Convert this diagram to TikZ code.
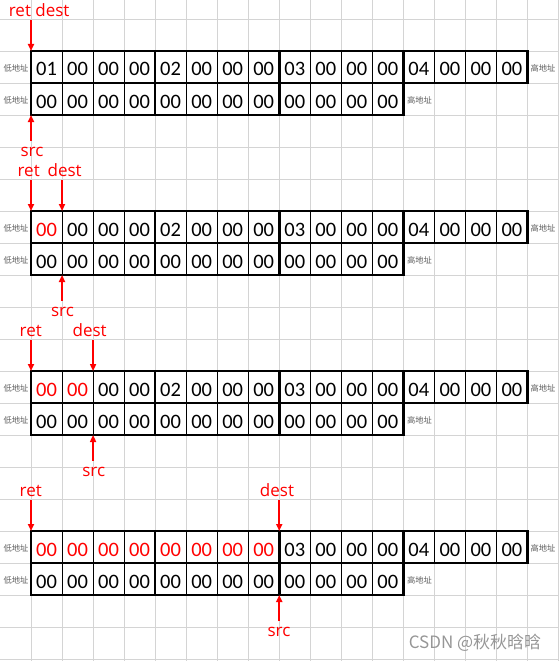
\documentclass[tikz,border=0pt]{standalone}
\usepackage{fontspec}
\setmainfont{Carlito}
\newfontfamily\lblfont{Open Sans}
\newfontfamily\cjkfont{Noto Sans CJK SC}
\usetikzlibrary{arrows.meta}

\definecolor{gridgray}{RGB}{212,212,212}
\definecolor{ptrred}{RGB}{255,0,0}
\definecolor{addrgray}{RGB}{95,95,95}
\definecolor{markgray}{RGB}{150,150,150}

\tikzset{
  gridline/.style={gridgray, line width=0.8pt},
  cellline/.style={black, line width=1pt},
  boxline/.style={black, line width=2.6pt},
  byte/.style={font=\fontsize{20.5}{20.5}\selectfont, inner sep=0pt, anchor=base},
  addr/.style={font=\cjkfont\fontsize{8.3}{8.3}\selectfont, text=addrgray, inner sep=0pt},
  ptrlbl/.style={font=\lblfont\fontsize{17}{17}\selectfont, text=ptrred, inner sep=0pt, anchor=base},
  ptrdown/.style={draw=ptrred, line width=2pt, shorten <=3pt, -{Triangle[length=7pt,width=6pt]}},
  ptrup/.style={draw=ptrred, line width=2pt, shorten <=6pt, -{Triangle[length=7pt,width=6pt]}},
  watermark/.style={font=\cjkfont\fontsize{17}{17}\selectfont, text=markgray, inner sep=0pt}
}

\begin{document}
\begin{tikzpicture}[x=1pt,y=-1pt]
  \useasboundingbox (0,0) rectangle (559,661);
  % draw sheet grid
  \foreach \i in {0,...,17}
    \draw[gridline] ({31+31.03*\i},0) -- ({31+31.03*\i},661);
  \foreach \j in {0,...,20}
    \draw[gridline] (0,{19+32*\j}) -- (559,{19+32*\j});
  % draw the two memory rows for every step
  \foreach \b/\nred in {1/0,2/1,3/2,4/8}{
    \pgfmathsetmacro{\ytop}{51+160*(\b-1)}
    % first row: ret/dest bytes
    \foreach \k/\val in {1/01,2/00,3/00,4/00,5/02,6/00,7/00,8/00,9/03,10/00,11/00,12/00,13/04,14/00,15/00,16/00}{
      \ifnum\k>\nred\relax \def\bytecol{black}\def\bytetxt{\val}\else \def\bytecol{ptrred}\def\bytetxt{00}\fi
      \draw[cellline] ({31+31.03*(\k-1)},\ytop) rectangle ({31+31.03*\k},\ytop+32);
      \node[byte, text=\bytecol] (m\b-1-\k) at ({31+31.03*(\k-0.5)},\ytop+25) {\bytetxt};
    }
    % second row: src bytes
    \foreach \k in {1,...,12}{
      \draw[cellline] ({31+31.03*(\k-1)},\ytop+32) rectangle ({31+31.03*\k},\ytop+64);
      \node[byte] (m\b-2-\k) at ({31+31.03*(\k-0.5)},\ytop+57) {00};
    }
    % thick borders round each int
    \draw[boxline] (31,\ytop) rectangle ({31+31.03*16},\ytop+32);
    \draw[boxline] (31,\ytop+32) rectangle ({31+31.03*12},\ytop+64);
    \foreach \g in {4,8}
      \draw[boxline] ({31+31.03*\g},\ytop) -- ({31+31.03*\g},\ytop+64);
    \draw[boxline] ({31+31.03*12},\ytop) -- ({31+31.03*12},\ytop+32);
    % address labels
    \node[addr] (lo\b-1) at (16,\ytop+17) {低地址};
    \node[addr] (lo\b-2) at (16,\ytop+49) {低地址};
    \node[addr] (hi\b-1) at (543,\ytop+17) {高地址};
    \node[addr] (hi\b-2) at (419.5,\ytop+49) {高地址};
    % corner points the pointers aim at
    \foreach \k in {1,...,16}
      \coordinate (t\b-\k) at ({31+31.03*(\k-1)},\ytop);
    \foreach \k in {1,...,12}
      \coordinate (s\b-\k) at ({31+31.03*(\k-1)},\ytop+64);
  }

  % step 1
  \node[ptrlbl] (rd1) at (39.2,16.7) {ret dest};
  \draw[ptrdown] (rd1.south -| t1-1) -- (t1-1);
  \node[ptrlbl] (src1) at (32,156.7) {src};
  \draw[ptrup] (src1.north -| s1-1) -- (s1-1);
  % step 2
  \node[ptrlbl] (ret2) at (28.7,176.7) {ret};
  \node[ptrlbl] (dest2) at (64.7,176.7) {dest};
  \draw[ptrdown] (ret2.south -| t2-1) -- (t2-1);
  \draw[ptrdown] (dest2.south -| t2-2) -- (t2-2);
  \node[ptrlbl] (src2) at (62.5,316.7) {src};
  \draw[ptrup] (src2.north -| s2-2) -- (s2-2);
  % step 3
  \node[ptrlbl] (ret3) at (30.8,336.7) {ret};
  \node[ptrlbl] (dest3) at (89.7,336.7) {dest};
  \draw[ptrdown] (ret3.south -| t3-1) -- (t3-1);
  \draw[ptrdown] (dest3.south -| t3-3) -- (t3-3);
  \node[ptrlbl] (src3) at (93.7,476.7) {src};
  \draw[ptrup] (src3.north -| s3-3) -- (s3-3);
  % step 4
  \node[ptrlbl] (ret4) at (30.8,496.7) {ret};
  \node[ptrlbl] (dest4) at (277,496.7) {dest};
  \draw[ptrdown] (ret4.south -| t4-1) -- (t4-1);
  \draw[ptrdown] (dest4.south -| t4-9) -- (t4-9);
  \node[ptrlbl] (src4) at (279,636.7) {src};
  \draw[ptrup] (src4.north -| s4-9) -- (s4-9);

  % watermark
  \node[watermark] (wm) at (475,643) {CSDN @秋秋晗晗};
\end{tikzpicture}
\end{document}
